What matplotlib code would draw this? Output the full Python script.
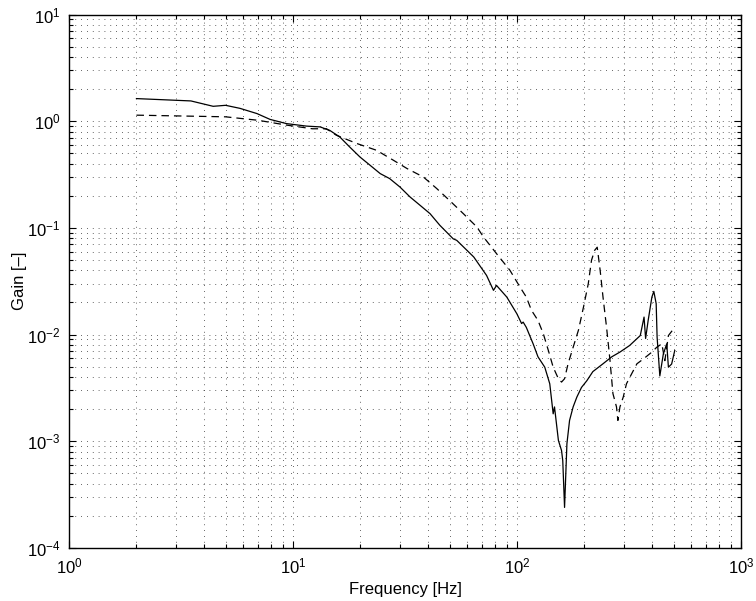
import matplotlib
matplotlib.use('Agg')
import matplotlib.pyplot as plt
from matplotlib.ticker import LogLocator, NullFormatter
import numpy as np

plt.rcParams['font.family'] = ['Liberation Sans', 'DejaVu Sans']
plt.rcParams['mathtext.fontset'] = 'custom'
plt.rcParams['mathtext.rm'] = 'Liberation Sans'
plt.rcParams['mathtext.it'] = 'Liberation Sans:italic'

# solid curve (frequency [Hz], gain [-])
freq_a = [2.0, 3.5, 4.4, 5.0, 5.8, 6.9, 7.9, 9.35, 11.5, 13.2, 14.6, 16.2, 17.9,
          19.9, 22.1, 24.5, 27.0, 30.0, 33.3, 36.9, 40.9, 45.2, 51.9, 53.8,
          64.1, 73.1, 78.5, 81.0, 90.0, 99.8, 104.8, 106.5, 110.0, 118.0,
          124.0, 133.0, 140.0, 145.0, 147.0, 153.0, 158.0, 160.0, 163.0,
          167.0, 171.6, 178.0, 185.0, 194.0, 205.0, 218.0, 242.0, 265.0,
          288.0, 318.0, 355.0, 369.0, 375.0, 385.0, 400.0, 408.0, 418.0,
          422.0, 434.0, 450.0, 466.0, 474.0, 490.0, 506.0]
gain_a = [1.63, 1.55, 1.38, 1.41, 1.32, 1.18, 1.04, 0.95, 0.90, 0.885, 0.82,
          0.71, 0.574, 0.462, 0.386, 0.323, 0.29, 0.242, 0.195, 0.163, 0.136,
          0.106, 0.079, 0.0765, 0.0534, 0.0359, 0.026, 0.0289, 0.0225,
          0.0157, 0.0127, 0.0131, 0.0117, 0.0082, 0.0062, 0.00495, 0.00346,
          0.00181, 0.0021, 0.00102, 0.00082, 0.00066, 0.00024, 0.00095,
          0.00157, 0.0021, 0.0026, 0.0032, 0.0037, 0.0045, 0.00533, 0.0062,
          0.00686, 0.0079, 0.0098, 0.0146, 0.0092, 0.0136, 0.0225, 0.0254,
          0.0195, 0.0095, 0.0041, 0.0066, 0.0082, 0.00495, 0.0053, 0.0071]

# dashed curve
freq_b = [2.0, 5.0, 7.0, 9.35, 12.2, 14.1, 15.6, 19.2, 23.6, 28.1, 32.3, 38.2,
          43.8, 50.1, 57.6, 66.2, 70.9, 81.0, 93.0, 103.0, 110.0, 116.0,
          124.0, 131.0, 138.0, 145.0, 153.0, 158.0, 163.0, 169.0, 178.0,
          188.0, 198.0, 208.0, 215.0, 222.0, 228.0, 235.0, 242.0, 251.0,
          260.0, 268.0, 278.0, 282.0, 288.0, 298.0, 308.0, 325.0, 343.0,
          366.0, 400.0, 420.0, 443.0, 457.0, 474.0, 506.0]
gain_b = [1.14, 1.10, 1.02, 0.92, 0.85, 0.85, 0.74, 0.62, 0.534, 0.43, 0.36,
          0.30, 0.234, 0.18, 0.136, 0.102, 0.082, 0.0574, 0.04, 0.028, 0.0225,
          0.0169, 0.0136, 0.0102, 0.0071, 0.00495, 0.00386, 0.00359, 0.00386,
          0.00533, 0.0076, 0.011, 0.0181, 0.030, 0.0497, 0.0616, 0.066, 0.04,
          0.0225, 0.0117, 0.00575, 0.0028, 0.0021, 0.00157, 0.0021, 0.0026,
          0.00346, 0.0043, 0.00533, 0.0059, 0.00686, 0.0076, 0.0082, 0.0057,
          0.0098, 0.0117]

fig = plt.figure(figsize=(7.56, 6.01), dpi=100)
ax = fig.add_axes([0.0913, 0.0882, 0.8889, 0.8876])

ax.loglog(freq_a, gain_a, color='k', linewidth=0.9)
ax.loglog(freq_b, gain_b, color='k', linewidth=0.9, linestyle=(0, (6, 4)))

ax.set_xlim(1, 1000)
ax.set_ylim(1e-4, 10)
ax.xaxis.set_major_locator(LogLocator(base=10, numticks=10))
ax.yaxis.set_major_locator(LogLocator(base=10, numticks=10))
ax.xaxis.set_minor_locator(LogLocator(base=10, subs=np.arange(2, 10), numticks=20))
ax.yaxis.set_minor_locator(LogLocator(base=10, subs=np.arange(2, 10), numticks=20))
ax.xaxis.set_minor_formatter(NullFormatter())
ax.yaxis.set_minor_formatter(NullFormatter())

# matlab-like sparse dotted grid
ax.grid(True, which='both', linestyle=(0, (1, 6)), color='0.2', linewidth=0.6)
ax.tick_params(which='both', direction='in', top=True, right=True,
               labelsize=12, width=0.8)
ax.tick_params(which='major', length=5, pad=6)
ax.tick_params(which='minor', length=3)
for s in ax.spines.values():
    s.set_linewidth(1.0)

ax.set_xlabel('Frequency [Hz]', fontsize=12)
ax.set_ylabel('Gain [\u2013]', fontsize=12, labelpad=0)

fig.savefig('out.png', dpi=100)
